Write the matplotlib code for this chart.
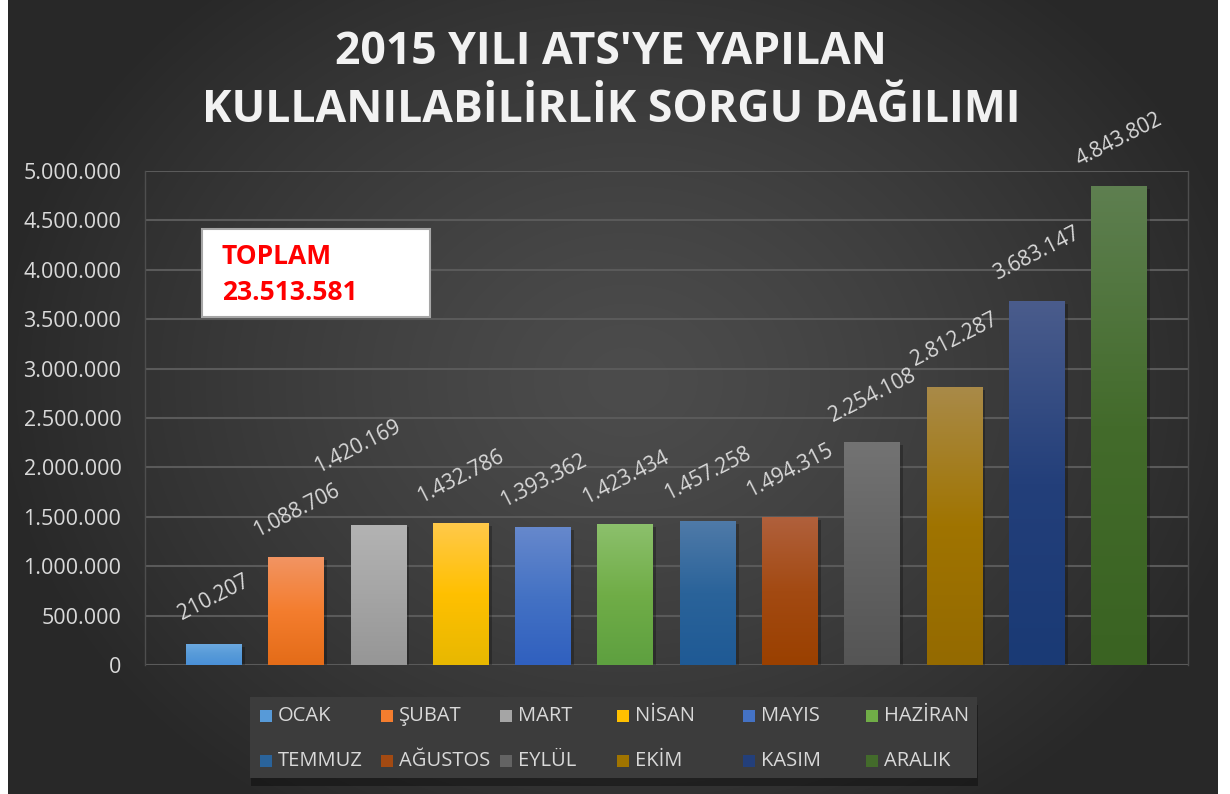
import numpy as np
import matplotlib
matplotlib.use("Agg")
import matplotlib.pyplot as plt
import matplotlib.patheffects as pe
from matplotlib.colors import LinearSegmentedColormap
from matplotlib.patches import Rectangle

# ---------- data

months = ["OCAK", "ŞUBAT", "MART", "NİSAN", "MAYIS", "HAZİRAN",
          "TEMMUZ", "AĞUSTOS", "EYLÜL", "EKİM", "KASIM", "ARALIK"]
sorgu = [210207, 1088706, 1420169, 1432786, 1393362, 1423434,
         1457258, 1494315, 2254108, 2812287, 3683147, 4843802]
yticks = [0, 500000, 1000000, 1500000, 2000000, 2500000,
          3000000, 3500000, 4000000, 4500000, 5000000]
title1 = "2015 YILI ATS'YE YAPILAN"
title2 = "KULLANILABİLİRLİK SORGU DAĞILIMI"

# bar gradient colours: top, middle, bottom
c_top = ["#6ba9e0", "#f29462", "#b3b3b3", "#ffc94a", "#6688cc", "#8cc06c",
         "#4f7aa8", "#b0603c", "#737373", "#a98a48", "#4a5c8c", "#5e7f50"]
c_mid = ["#579ad8", "#f47d2e", "#a5a5a5", "#ffc000", "#4472c4", "#70ad47",
         "#2a639a", "#a34a12", "#636363", "#a07400", "#233f7a", "#436b2b"]
c_bot = ["#4a90d8", "#e46c18", "#969696", "#e8b800", "#3060bf", "#5ea040",
         "#1f5a95", "#9a4000", "#555555", "#946a00", "#1a3a75", "#3a6322"]

W, H = 1230, 794
txt = "#d9d9d9"
font = "Open Sans"

# label offsets in pixels (the MART label was moved up by hand in the original)
lbl_off = [(0, 47)] * 12
lbl_off[2] = (-21, 78)


def fmt(v):
    return f"{v:,}".replace(",", ".")


fig = plt.figure(figsize=(W / 100, H / 100), dpi=100, facecolor="white")

# ---------- dark radial background
bg = fig.add_axes([8 / W, 0, 1210 / W, 1], zorder=-10)
yy, xx = np.mgrid[0:H, 0:1210]
r = np.sqrt(((xx - 620) / 640.0) ** 2 + ((yy - 380) / 520.0) ** 2)
r = np.clip(r, 0, 1)
val = (76 - 36 * r ** 1.3) / 255.0
bg.imshow(np.dstack([val, val, val]), aspect="auto", interpolation="bilinear")
bg.axis("off")

# ---------- plot area
ax = fig.add_axes([145 / W, 1 - 665 / H, 1043 / W, 494 / H])
ax.set_facecolor("none")
x = np.arange(len(months))
bw = 0.68
bars = ax.bar(x, sorgu, width=bw, color=c_mid, zorder=3)
for i, b in enumerate(bars):
    b.set_path_effects([pe.SimplePatchShadow(offset=(2, -2), shadow_rgbFace="black", alpha=0.25),
                        pe.Normal()])
    cmap = LinearSegmentedColormap.from_list("g%d" % i, [c_bot[i], c_mid[i], c_top[i]])
    grad = np.linspace(0, 1, 128).reshape(-1, 1)
    im = ax.imshow(grad, cmap=cmap, origin="lower", aspect="auto",
                   extent=[x[i] - bw / 2, x[i] + bw / 2, 0, sorgu[i]], zorder=4)
    im.set_clip_path(b)
    ax.annotate(fmt(sorgu[i]), (x[i], sorgu[i]), xytext=lbl_off[i], textcoords="offset pixels",
                ha="center", va="center", rotation=27, rotation_mode="anchor",
                fontsize=15, color=txt, family=font, zorder=5)

ax.set_xlim(-0.838, 11.835)
ax.set_ylim(0, 5000000)
ax.set_yticks(yticks)
ax.set_yticklabels([fmt(v) for v in yticks], family=font)
ax.set_xticks([])
ax.tick_params(axis="y", length=0, pad=17, labelsize=15.5, labelcolor=txt)
ax.grid(axis="y", color="#5a5a5a", lw=1.5, zorder=0)
for s in ["left", "right"]:
    ax.spines[s].set_color("#4e4e4e")
    ax.spines[s].set_linewidth(1)
for s in ["top", "bottom"]:
    ax.spines[s].set_visible(False)

# ---------- title
fig.text(611 / W, 1 - 52 / H, title1, ha="center", va="center", fontsize=32,
         weight="bold", color="#f2f2f2", family=font)
fig.text(611 / W, 1 - 111 / H, title2, ha="center", va="center", fontsize=32,
         weight="bold", color="#f2f2f2", family=font)

# ---------- total box
fig.patches.append(Rectangle((202 / W, 1 - 317 / H), 228 / W, 88 / H, transform=fig.transFigure,
                             facecolor="white", edgecolor="#a6a6a6", lw=1.5, zorder=6))
fig.text(222 / W, 1 - 257 / H, "TOPLAM", ha="left", va="center", fontsize=19,
         weight="bold", color="#ff0000", family=font, zorder=7)
fig.text(222 / W, 1 - 293 / H, fmt(sum(sorgu)), ha="left", va="center", fontsize=19,
         weight="bold", color="#ff0000", family=font, zorder=7)

# ---------- legend
lax = fig.add_axes([250 / W, 1 - 778 / H, 727 / W, 81 / H], zorder=2)
lax.set_xlim(0, 727)
lax.set_ylim(81, 0)
lax.set_facecolor("#3c3c3c")
lax.patch.set_path_effects([pe.SimplePatchShadow(offset=(1, -6), shadow_rgbFace="black", alpha=0.35),
                            pe.Normal()])
lax.set_xticks([])
lax.set_yticks([])
for s in lax.spines.values():
    s.set_visible(False)
cols = [10, 131, 250, 367, 493, 616]
rows = [19, 64]
for i, m in enumerate(months):
    cx = cols[i % 6]
    cy = rows[i // 6]
    lax.add_patch(Rectangle((cx, cy - 6), 12, 12, facecolor=c_mid[i], edgecolor="none"))
    lax.text(cx + 18, cy, m, ha="left", va="center", fontsize=14.5, color=txt, family=font)

fig.savefig("out.png", dpi=100, facecolor="white")
